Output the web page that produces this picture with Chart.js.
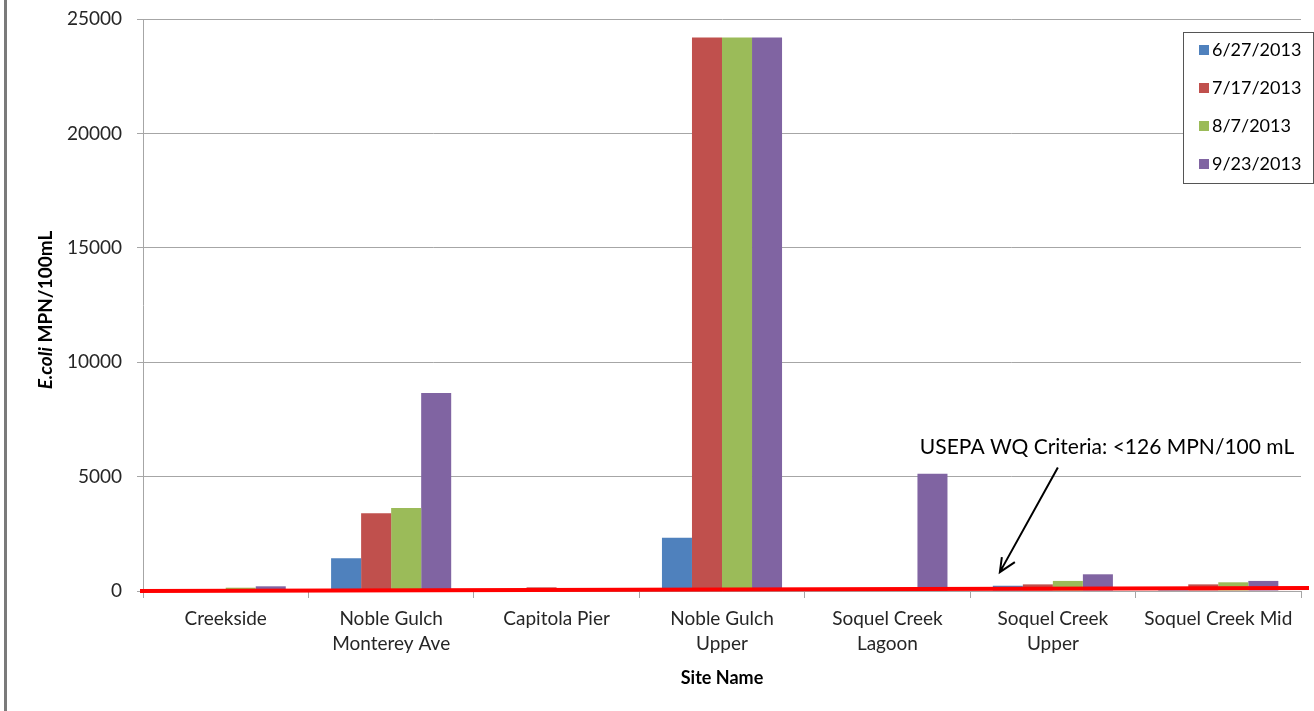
<!DOCTYPE html>
<html>
<head>
<meta charset="utf-8">
<script src="https://cdn.jsdelivr.net/npm/chart.js@4.4.1/dist/chart.umd.min.js"></script>
<style>
  body { margin: 0; background: #fff; }
  #wrap { position: relative; width: 1314px; height: 711px; }
  #frame { position: absolute; left: 4px; top: 0; width: 3px; height: 711px; background: #7a7a7a; }
</style>
</head>
<body>
<div id="wrap">
  <canvas id="graficoEcoli" width="1314" height="711"></canvas>
  <div id="frame"></div>
</div>
<script>
const sites = [
    ['Creekside'],
    ['Noble Gulch', 'Monterey Ave'],
    ['Capitola Pier'],
    ['Noble Gulch', 'Upper'],
    ['Soquel Creek', 'Lagoon'],
    ['Soquel Creek', 'Upper'],
    ['Soquel Creek Mid']
];
const sampleDates = ['6/27/2013', '7/17/2013', '8/7/2013', '9/23/2013'];
const jun27 = [10, 1430, 20, 2330, 30, 230, 120];
const jul17 = [40, 3400, 160, 24196, 60, 290, 290];
const aug7 = [145, 3630, 20, 24196, 60, 440, 380];
const sep23 = [205, 8650, 30, 24196, 5120, 730, 440];
const yTicks = [0, 5000, 10000, 15000, 20000, 25000];
const criterion = 126;
const criterionText = 'USEPA WQ Criteria: <126 MPN/100 mL';

const cores = ['#4F81BD', '#C0504D', '#9BBB59', '#8064A2'];
const fonte = 'Lato, "Open Sans", sans-serif';
const cinza = '#a6a6a6';

// titulos, linha do criterio, anotacao e legenda desenhados a mao
const extras = {
    id: 'extras',
    afterDatasetsDraw(chart) {
        const ctx = chart.ctx;
        const area = chart.chartArea;
        const y = chart.scales.y;

        // linha vermelha do criterio (tracada a mao no original, levemente inclinada)
        const yc = y.getPixelForValue(criterion);
        ctx.save();
        ctx.strokeStyle = '#ff0000';
        ctx.lineWidth = 4;
        ctx.beginPath();
        ctx.moveTo(area.left - 3, yc + 3);
        ctx.lineTo(area.right + 8, yc);
        ctx.stroke();
        ctx.restore();
    },
    afterDraw(chart) {
        const ctx = chart.ctx;
        const area = chart.chartArea;
        const x = chart.scales.x;
        const y = chart.scales.y;

        // titulo eixo y
        ctx.save();
        ctx.translate(46, (area.top + area.bottom) / 2 + 5);
        ctx.rotate(-Math.PI / 2);
        ctx.fillStyle = '#000';
        ctx.textBaseline = 'middle';
        const f1 = 'italic bold 19px ' + fonte;
        const f2 = 'bold 19px ' + fonte;
        ctx.font = f1;
        const w1 = ctx.measureText('E.coli').width;
        ctx.font = f2;
        const w2 = ctx.measureText(' MPN/100mL').width;
        let sx = -(w1 + w2) / 2;
        ctx.font = f1;
        ctx.fillText('E.coli', sx, 0);
        ctx.font = f2;
        ctx.fillText(' MPN/100mL', sx + w1, 0);
        ctx.restore();

        // titulo eixo x
        ctx.save();
        ctx.fillStyle = '#000';
        ctx.font = 'bold 18px ' + fonte;
        ctx.textAlign = 'center';
        ctx.textBaseline = 'middle';
        ctx.fillText('Site Name', (area.left + area.right) / 2, 678);
        ctx.restore();

        // anotacao com seta
        const cx = x.getPixelForValue(5);
        const yc = y.getPixelForValue(criterion);
        ctx.save();
        ctx.fillStyle = '#000';
        ctx.font = '21px ' + fonte;
        ctx.textBaseline = 'middle';
        ctx.fillText(criterionText, cx - 133, y.getPixelForValue(6300));
        ctx.strokeStyle = '#000';
        ctx.lineWidth = 2;
        const tipX = cx - 53, tipY = yc - 16;
        ctx.beginPath();
        ctx.moveTo(cx + 5, y.getPixelForValue(5400));
        ctx.lineTo(tipX, tipY);
        ctx.moveTo(tipX + 15, tipY - 10);
        ctx.lineTo(tipX, tipY);
        ctx.lineTo(tipX + 2, tipY - 15);
        ctx.stroke();
        ctx.restore();

        // legenda
        const lx = 1183, ly = 32, lw = 130, lh = 151;
        ctx.save();
        ctx.fillStyle = '#fff';
        ctx.fillRect(lx, ly, lw, lh);
        ctx.strokeStyle = '#555';
        ctx.lineWidth = 1;
        ctx.strokeRect(lx + 0.5, ly + 0.5, lw, lh);
        ctx.font = '18px ' + fonte;
        ctx.textBaseline = 'middle';
        chart.data.datasets.forEach(function (ds, i) {
            const rowY = 50 + i * 38;
            ctx.fillStyle = ds.backgroundColor;
            ctx.fillRect(1199, rowY - 5, 10, 10);
            ctx.fillStyle = '#000';
            ctx.fillText(ds.label, 1212, rowY);
        });
        ctx.restore();
    }
};

const series = [jun27, jul17, aug7, sep23];

new Chart(document.getElementById('graficoEcoli'), {
    type: 'bar',
    data: {
        labels: sites,
        datasets: series.map(function (valores, i) {
            return {
                label: sampleDates[i],
                data: valores,
                backgroundColor: cores[i],
                borderWidth: 0,
                categoryPercentage: 0.726,
                barPercentage: 1
            };
        })
    },
    options: {
        responsive: false,
        animation: false,
        layout: {
            padding: { top: 19, right: 13, left: 0, bottom: 0 }
        },
        plugins: {
            legend: { display: false },
            tooltip: { enabled: false }
        },
        scales: {
            y: {
                min: 0,
                max: 25000,
                afterBuildTicks: function (s) {
                    s.ticks = yTicks.map(function (v) { return { value: v }; });
                },
                afterFit: function (s) {
                    s.width = 143;
                    s.paddingTop = 0;
                    s.paddingBottom = 0;
                },
                ticks: {
                    color: '#262626',
                    padding: 15,
                    font: { family: fonte, size: 19 },
                    callback: function (v) { return String(v); }
                },
                grid: {
                    color: cinza,
                    tickLength: 6
                },
                border: { color: cinza }
            },
            x: {
                afterFit: function (s) { s.height = 120; },
                ticks: {
                    color: '#262626',
                    padding: 9,
                    maxRotation: 0,
                    autoSkip: false,
                    font: { family: fonte, size: 19, lineHeight: 1.3 }
                },
                grid: {
                    color: cinza,
                    drawOnChartArea: false,
                    tickLength: 7
                },
                border: { color: cinza }
            }
        }
    },
    plugins: [extras]
});
</script>
</body>
</html>
